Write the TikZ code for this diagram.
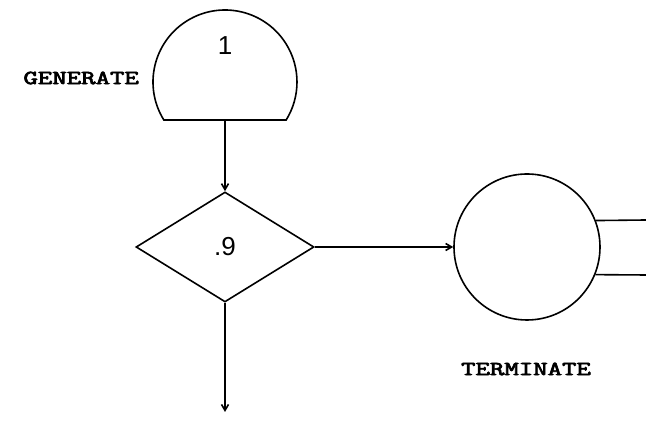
\documentclass[tikz,border=0pt]{standalone}
\usepackage{fontspec}
\usetikzlibrary{arrows.meta, shapes.geometric}
\usetikzlibrary{positioning}
\newfontfamily\numfont{Liberation Sans}
\newfontfamily\labelfont[FakeBold=3]{Latin Modern Mono}

\begin{document}
\begin{tikzpicture}[x=1pt, y=1pt, line width=1.6pt, >={Straight Barb[length=6pt, width=7pt]},
		every node/.style={font=\labelfont\fontsize{20}{20}\selectfont}]
	\useasboundingbox (0,0) rectangle (646,422);

	% generate block: round top, flat bottom
	\coordinate (gen) at (225,340);
	\draw (gen) ++(211.9:72) arc[start angle=211.9, end angle=-31.9, radius=72] -- cycle;
	\coordinate (gen-out) at (225,302);
	\node[font=\numfont\fontsize{26}{26}\selectfont] (gen-num) at (225,376) {1};
	\node[left] (gen-label) at (143,344) {\scalebox{1.4}[1]{GENERATE}};

	\node[draw, diamond, minimum width=178pt, minimum height=110pt, inner sep=0pt,
		font=\numfont\fontsize{26}{26}\selectfont] (split) at (225,175) {.9};

	\node[draw, circle, minimum size=146pt, inner sep=0pt] (term) at (527,175) {};
	\node (term-label) at (526,53) {\scalebox{1.4}[1]{TERMINATE}};

	\coordinate (exit) at (225,10);
	\coordinate (out-a) at (646,202);
	\coordinate (out-b) at (646,147);

	\draw[->] (gen-out) -- (split.north);
	\draw[->] (split.east) -- (term.west);
	\draw[->] (split.south) -- (exit);
	\draw (term.21.7) -- (out-a);
	\draw (term.-22.2) -- (out-b);
\end{tikzpicture}
\end{document}
